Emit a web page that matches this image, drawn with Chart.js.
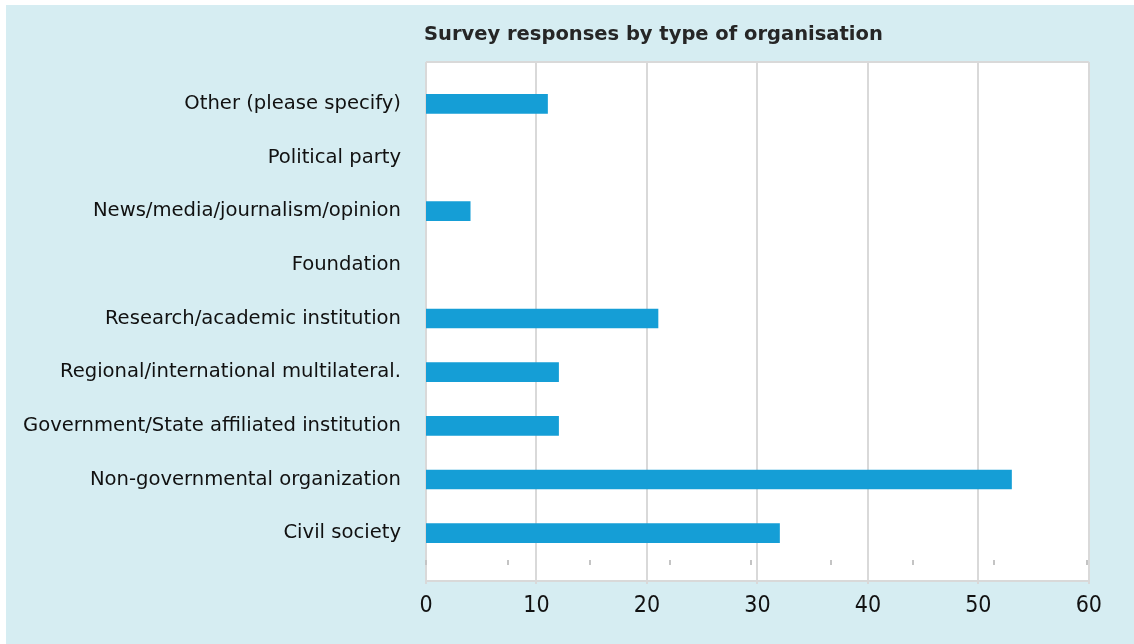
<!DOCTYPE html>
<html>
<head>
<meta charset="utf-8">
<script src="https://cdn.jsdelivr.net/npm/chart.js@4/dist/chart.umd.min.js"></script>
<style>
  html, body { margin: 0; padding: 0; background: #ffffff; }
  #wrap {
    position: absolute; left: 6px; top: 5px;
    width: 1128px; height: 639px;
    background: #d6edf2;
  }
  canvas { display: block; }
</style>
</head>
<body>
<div id="wrap"><canvas id="chart" width="1128" height="639"></canvas></div>
<script>
const categories = [
  'Other (please specify)',
  'Political party',
  'News/media/journalism/opinion',
  'Foundation',
  'Research/academic institution',
  'Regional/international multilateral.',
  'Government/State affiliated institution',
  'Non-governmental organization',
  'Civil society'
];
const responses = [11, 0, 4, 0, 21, 12, 12, 53, 32];
const xTicks = [0, 10, 20, 30, 40, 50, 60];
// small marks just above the axis line
const minorMarks = [0, 7.4, 14.8, 22.1, 29.4, 36.7, 44.1, 51.4, 59.8];

const FONT = '"DejaVu Sans", sans-serif';
const NUM_FONT = '"Liberation Sans Narrow", "DejaVu Sans Condensed", sans-serif';
const GRID = '#d9d9d9';
const BAR = '#159ed6';

// white plot box, gridlines, axis line and the small marks
const plotBox = {
  id: 'plotBox',
  beforeDatasetsDraw(chart) {
    const { ctx, chartArea: a } = chart;
    const x = chart.scales.x;
    const top = a.top - 15, bottom = a.bottom + 21;
    ctx.save();
    ctx.fillStyle = '#ffffff';
    ctx.fillRect(a.left, top, a.right - a.left, bottom - top);
    ctx.strokeStyle = GRID;
    ctx.lineWidth = 2;
    xTicks.forEach(v => {
      const px = Math.round(x.getPixelForValue(v));
      ctx.beginPath();
      ctx.moveTo(px, top);
      ctx.lineTo(px, bottom + 3);
      ctx.stroke();
    });
    ctx.beginPath();
    ctx.moveTo(a.left, top);
    ctx.lineTo(a.right, top);
    ctx.moveTo(a.left, bottom);
    ctx.lineTo(a.right, bottom);
    ctx.stroke();
    ctx.fillStyle = '#c4c4c4';
    minorMarks.forEach(v => {
      const px = Math.round(x.getPixelForValue(v));
      ctx.fillRect(px - 1, a.bottom, 2, 5);
    });
    ctx.restore();
  },
  afterDraw(chart) {
    const { ctx, chartArea: a } = chart;
    ctx.save();
    ctx.font = 'bold 19.5px ' + FONT;
    ctx.fillStyle = '#262626';
    ctx.textBaseline = 'middle';
    ctx.textAlign = 'left';
    ctx.fillText('Survey responses by type of organisation', a.left - 2, 30);
    ctx.restore();
  }
};

new Chart(document.getElementById('chart'), {
  type: 'bar',
  data: {
    labels: categories,
    datasets: [{
      data: responses,
      // zero-length bars leave no sliver on the axis
      backgroundColor: c => (c.raw === 0 ? 'rgba(0,0,0,0)' : BAR),
      barThickness: 19
    }]
  },
  options: {
    indexAxis: 'y',
    responsive: false,
    animation: false,
    layout: { padding: { top: 72, right: 41, bottom: 0, left: 0 } },
    plugins: { legend: { display: false }, tooltip: { enabled: false } },
    scales: {
      x: {
        min: 0, max: 60,
        afterBuildTicks(scale) { scale.ticks = xTicks.map(v => ({ value: v })); },
        afterFit(scale) { scale.height = 84; },
        grid: { display: false, drawTicks: false },
        border: { display: false },
        ticks: { padding: 32, color: '#111111', font: { family: NUM_FONT, size: 23 } }
      },
      y: {
        afterFit(scale) { scale.width = 420; },
        grid: { display: false, drawTicks: false },
        border: { display: false },
        ticks: { padding: 25, color: '#111111', font: { family: FONT, size: 19.6 } }
      }
    }
  },
  plugins: [plotBox]
});
</script>
</body>
</html>
